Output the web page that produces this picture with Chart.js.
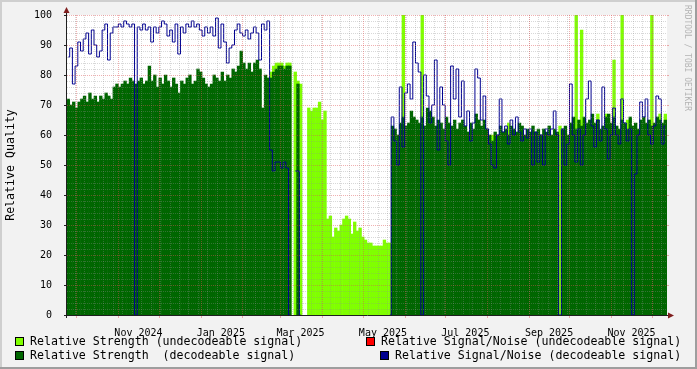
<!DOCTYPE html>
<html>
<head>
<meta charset="utf-8">
<script src="https://cdn.jsdelivr.net/npm/chart.js@4.4.1/dist/chart.umd.min.js"></script>
<style>
  html, body { margin: 0; padding: 0; background: #f2f2f2; }
  canvas { display: block; }
</style>
</head>
<body>
<canvas id="chart" width="697" height="369"></canvas>
<script>
const _ = null;

// one sample every 2 days, first sample starts at the left edge of the graph
const axisStartDay = -37.9;   // days relative to 2024-11-01
const axisEndDay = 406.3;
const stepDays = 2;

const tickLabels = ['Nov 2024', 'Jan 2025', 'Mar 2025', 'May 2025', 'Jul 2025', 'Sep 2025', 'Nov 2025'];
const tickMonths = [[2024, 10], [2025, 0], [2025, 2], [2025, 4], [2025, 6], [2025, 8], [2025, 10]];
const yTicks = [0, 10, 20, 30, 40, 50, 60, 70, 80, 90, 100];

// Relative Strength (decodeable signal)
const strengthDecodeable = [
  72, 70, 71, 69, 71, 72, 73, 71, 74, 72,
  73, 71, 73, 72, 74, 73, 72, 76, 77, 76,
  77, 78, 77, 79, 78, 77, 78, 79, 77, 78,
  83, 78, 80, 76, 79, 77, 80, 78, 76, 79,
  77, 74, 78, 77, 79, 80, 77, 78, 82, 81,
  79, 77, 76, 77, 80, 79, 78, 81, 78, 80,
  79, 82, 81, 83, 88, 84, 82, 84, 81, 84,
  85, 82, 69, 80, 79, 79, 81, 82, 83, 83,
  82, 83, 83, _, _, 77, _, _, _, _,
  _, _, _, _, _, _, _, _, _, _,
  _, _, _, _, _, _, _, _, _, _,
  _, _, _, _, _, _, _, _, _, _,
  63, 62, 60, 64, 66, 63, 64, 68, 66, 65,
  64, 66, 63, 69, 68, 66, 63, 65, 64, 62,
  66, 64, 63, 65, 62, 64, 65, 63, 61, 64,
  62, 67, 65, 63, 65, 62, 60, 58, 61, 60,
  63, 61, 62, 60, 63, 62, 61, 64, 63, 60,
  62, 61, 63, 61, 62, 60, 62, 61, 63, 60,
  62, 61, _, 62, 63, 60, 64, 66, 62, 65,
  63, 66, 64, 65, 67, 64, 65, 62, 63, 66,
  67, 64, 66, 63, 62, 65, 64, 62, 66, 63,
  64, 62, 65, 66, 64, 65, 63, 64, 66, 65,
  64, 65
];

// Relative Strength (undecodeable signal)
const strengthUndecodeable = [
  _, _, _, _, _, _, _, _, _, _,
  _, _, _, _, _, _, _, _, _, _,
  _, _, _, _, _, _, _, _, _, _,
  _, _, _, _, _, _, _, _, _, _,
  _, _, _, _, _, _, _, _, _, _,
  _, _, _, _, _, _, _, _, _, _,
  _, _, _, _, _, _, _, _, _, _,
  _, _, _, _, _, 81, 83, 84, 84, 84,
  83, 84, 84, _, 81, 78, 77, _, _, 69,
  68, 69, 69, 71, 65, 68, 32, 33, 26, 29,
  28, 30, 32, 33, 32, 27, 31, 28, 29, 26,
  25, 24, 24, 23, 23, 23, 23, 25, 24, 24,
  _, _, _, _, 100, _, _, _, _, _,
  _, 100, _, _, _, _, _, _, _, _,
  _, _, _, _, _, _, _, _, _, _,
  _, _, _, _, _, _, _, 60, _, _,
  _, _, _, 64, _, _, _, _, _, _,
  _, _, _, _, _, _, _, _, _, _,
  _, _, 63, _, _, _, _, _, 100, _,
  95, _, _, _, _, _, 67, _, _, 67,
  _, _, 85, _, _, 100, _, 65, _, _,
  _, _, _, _, _, _, 100, _, _, 67,
  _, 67
];

// Relative Signal/Noise (decodeable signal)
const snrDecodeable = [
  86, 89, 77, 83, 91, 88, 92, 94, 87, 95,
  90, 86, 88, 95, 97, 85, 94, 96, 96, 97,
  96, 98, 97, 96, 97, 0, 96, 95, 97, 95,
  96, 91, 96, 94, 96, 98, 97, 93, 95, 91,
  97, 87, 96, 94, 97, 96, 98, 96, 97, 95,
  93, 96, 94, 96, 93, 99, 89, 97, 91, 84,
  89, 90, 95, 97, 94, 93, 95, 92, 94, 96,
  94, 85, 97, 95, 98, 55, 48, 51, 51, 49,
  51, 49, 0, _, 48, 48, 0, _, _, _,
  _, _, _, _, _, _, _, _, _, _,
  _, _, _, _, _, _, _, _, _, _,
  _, _, _, _, _, _, _, _, _, 0,
  66, 58, 50, 76, 56, 74, 77, 72, 91, 84,
  81, 0, 80, 73, 64, 70, 85, 55, 76, 70,
  58, 50, 83, 72, 82, 66, 78, 63, 68, 58,
  64, 82, 79, 65, 73, 62, 57, 50, 49, 60,
  72, 61, 63, 57, 65, 60, 66, 61, 58, 62,
  59, 62, 50, 61, 51, 60, 50, 62, 60, 62,
  68, 60, 0, 62, 50, 57, 77, 60, 51, 62,
  50, 60, 72, 78, 63, 56, 65, 58, 76, 62,
  52, 60, 69, 60, 57, 72, 64, 58, 62, 0,
  47, 60, 71, 66, 72, 60, 57, 63, 73, 72,
  57, 63
];

// Relative Signal/Noise (undecodeable signal): no samples in this period
const snrUndecodeable = [];

const dayZero = Date.UTC(2024, 10, 1);
const dayOf = (y, m, d) => (Date.UTC(y, m, d) - dayZero) / 864e5;
const toPoints = values => values.map((v, i) => ({ x: axisStartDay + stepDays * (i + 0.5), y: v }));

const axisFont = { family: "'DejaVu Sans Mono', monospace", size: 10 };
const textFont = "11.6px 'DejaVu Sans Mono', monospace";

const frameAndGrid = {
  id: 'frameAndGrid',
  beforeDraw(chart) {
    const { ctx, chartArea: a, width: W, height: H } = chart;
    ctx.save();
    ctx.fillStyle = '#f2f2f2';
    ctx.fillRect(0, 0, W, H);
    ctx.fillStyle = '#cfcfcf';
    ctx.fillRect(0, 0, W, 2);
    ctx.fillRect(0, 0, 2, H);
    ctx.fillStyle = '#9e9e9e';
    ctx.fillRect(0, H - 2, W, 2);
    ctx.fillRect(W - 2, 0, 2, H);
    ctx.fillStyle = '#ffffff';
    ctx.fillRect(a.left, a.top, a.right - a.left, a.bottom - a.top);
    ctx.restore();
  },
  afterDatasetsDraw(chart) {
    const { ctx, chartArea: a, scales: { x, y } } = chart;
    const minor = 'rgba(143,143,143,0.35)';
    const major = 'rgba(222,79,79,0.45)';
    ctx.save();
    ctx.lineWidth = 1;
    ctx.setLineDash([1, 1]);

    // horizontal grid
    for (let v = 2; v <= 100; v += 2) {
      const py = Math.round(y.getPixelForValue(v)) + 0.5;
      ctx.strokeStyle = v % 10 === 0 ? major : minor;
      ctx.beginPath();
      ctx.moveTo(a.left, py);
      ctx.lineTo(a.right, py);
      ctx.stroke();
    }
    // weekly minor lines
    for (let d = dayOf(2024, 8, 23); d < axisEndDay; d += 7) {
      if (d < axisStartDay) continue;
      const px = Math.round(x.getPixelForValue(d)) + 0.5;
      ctx.strokeStyle = minor;
      ctx.beginPath();
      ctx.moveTo(px, a.top);
      ctx.lineTo(px, a.bottom);
      ctx.stroke();
    }
    // monthly major lines
    const monthLines = [];
    for (let m = 9; m <= 23; m++) {
      const d = dayOf(2024, m, 1);
      if (d > axisStartDay && d < axisEndDay) monthLines.push(Math.round(x.getPixelForValue(d)) + 0.5);
    }
    ctx.strokeStyle = major;
    monthLines.forEach(px => {
      ctx.beginPath();
      ctx.moveTo(px, a.top);
      ctx.lineTo(px, a.bottom);
      ctx.stroke();
    });

    // small solid ticks
    ctx.setLineDash([]);
    ctx.strokeStyle = major;
    monthLines.forEach(px => {
      ctx.beginPath();
      ctx.moveTo(px, a.bottom);
      ctx.lineTo(px, a.bottom + 3);
      ctx.stroke();
    });
    yTicks.forEach(v => {
      const py = Math.round(y.getPixelForValue(v)) + 0.5;
      ctx.beginPath();
      ctx.moveTo(a.right, py);
      ctx.lineTo(a.right + 2, py);
      ctx.stroke();
    });

    // axes
    ctx.strokeStyle = '#1f1f1f';
    ctx.beginPath();
    ctx.moveTo(a.left - 3, a.bottom + 0.5);
    ctx.lineTo(a.right + 4, a.bottom + 0.5);
    ctx.moveTo(a.left - 0.5, a.bottom + 3);
    ctx.lineTo(a.left - 0.5, a.top - 4);
    yTicks.forEach(v => {
      const py = Math.round(y.getPixelForValue(v)) + 0.5;
      ctx.moveTo(a.left - 3, py);
      ctx.lineTo(a.left, py);
    });
    ctx.stroke();

    // arrows
    ctx.fillStyle = '#801f1f';
    ctx.beginPath();
    ctx.moveTo(a.right + 7, a.bottom + 0.5);
    ctx.lineTo(a.right + 1, a.bottom - 2.5);
    ctx.lineTo(a.right + 1, a.bottom + 3.5);
    ctx.closePath();
    ctx.fill();
    ctx.beginPath();
    ctx.moveTo(a.left - 0.5, a.top - 8);
    ctx.lineTo(a.left - 3.5, a.top - 2);
    ctx.lineTo(a.left + 2.5, a.top - 2);
    ctx.closePath();
    ctx.fill();
    ctx.restore();
  },
  afterDraw(chart) {
    const { ctx } = chart;
    ctx.save();
    ctx.font = textFont;
    ctx.textBaseline = 'middle';
    chart.data.datasets.forEach(ds => {
      const [bx, by] = ds.legendAt;
      ctx.fillStyle = ds.legendColor;
      ctx.fillRect(bx, by, 8, 8);
      ctx.strokeStyle = '#000';
      ctx.lineWidth = 1;
      ctx.strokeRect(bx + 0.5, by + 0.5, 8, 8);
      ctx.fillStyle = '#000';
      ctx.fillText(ds.label, bx + 15, by + 4.5);
    });

    // watermark
    ctx.translate(685, 5);
    ctx.rotate(Math.PI / 2);
    ctx.font = "8px 'DejaVu Sans Mono', monospace";
    ctx.fillStyle = '#b4b4b4';
    ctx.textBaseline = 'alphabetic';
    ctx.fillText('RRDTOOL / TOBI OETIKER', 0, 0);
    ctx.restore();
  }
};

new Chart(document.getElementById('chart'), {
  type: 'bar',
  data: {
    datasets: [
      {
        type: 'line',
        label: 'Relative Signal/Noise (decodeable signal)',
        data: toPoints(snrDecodeable),
        borderColor: '#000090',
        borderWidth: 1,
        stepped: 'middle',
        pointRadius: 0,
        fill: false,
        spanGaps: false,
        order: 0,
        legendColor: '#000090',
        legendAt: [380, 351]
      },
      {
        label: 'Relative Strength  (decodeable signal)',
        data: toPoints(strengthDecodeable),
        backgroundColor: '#006600',
        order: 1,
        legendColor: '#006600',
        legendAt: [15, 351]
      },
      {
        label: 'Relative Strength (undecodeable signal)',
        data: toPoints(strengthUndecodeable),
        backgroundColor: '#80ff00',
        order: 2,
        legendColor: '#80ff00',
        legendAt: [15, 337]
      },
      {
        type: 'line',
        label: 'Relative Signal/Noise (undecodeable signal)',
        data: toPoints(snrUndecodeable),
        borderColor: '#ff0000',
        borderWidth: 1,
        stepped: 'middle',
        pointRadius: 0,
        fill: false,
        order: 3,
        legendColor: '#ff0000',
        legendAt: [366, 337]
      }
    ]
  },
  options: {
    responsive: false,
    animation: false,
    events: [],
    datasets: {
      bar: { barPercentage: 1, categoryPercentage: 1, grouped: false, borderWidth: 0 }
    },
    layout: { padding: { left: 0, top: 15, right: 30, bottom: 32 } },
    plugins: { legend: { display: false }, tooltip: { enabled: false } },
    scales: {
      x: {
        type: 'linear',
        min: axisStartDay,
        max: axisEndDay,
        offset: false,
        grid: { display: false },
        border: { display: false },
        afterBuildTicks: scale => {
          scale.ticks = tickMonths.map(([y, m]) => ({ value: dayOf(y, m, 1) + 15 }));
        },
        ticks: {
          autoSkip: false,
          maxRotation: 0,
          padding: 4,
          color: '#000',
          font: axisFont,
          callback: (value, index) => tickLabels[index]
        },
        afterFit: scale => { scale.height = 22; }
      },
      y: {
        min: 0,
        max: 100,
        grid: { display: false },
        border: { display: false },
        afterBuildTicks: scale => {
          scale.ticks = yTicks.map(v => ({ value: v }));
        },
        ticks: { padding: 7, color: '#000', font: axisFont },
        title: {
          display: true,
          text: 'Relative Quality',
          color: '#000',
          font: { family: "'DejaVu Sans Mono', monospace", size: 11.6 },
          padding: { top: 4, bottom: 0 }
        },
        afterFit: scale => { scale.width = 67; }
      }
    }
  },
  plugins: [frameAndGrid]
});
</script>
</body>
</html>
